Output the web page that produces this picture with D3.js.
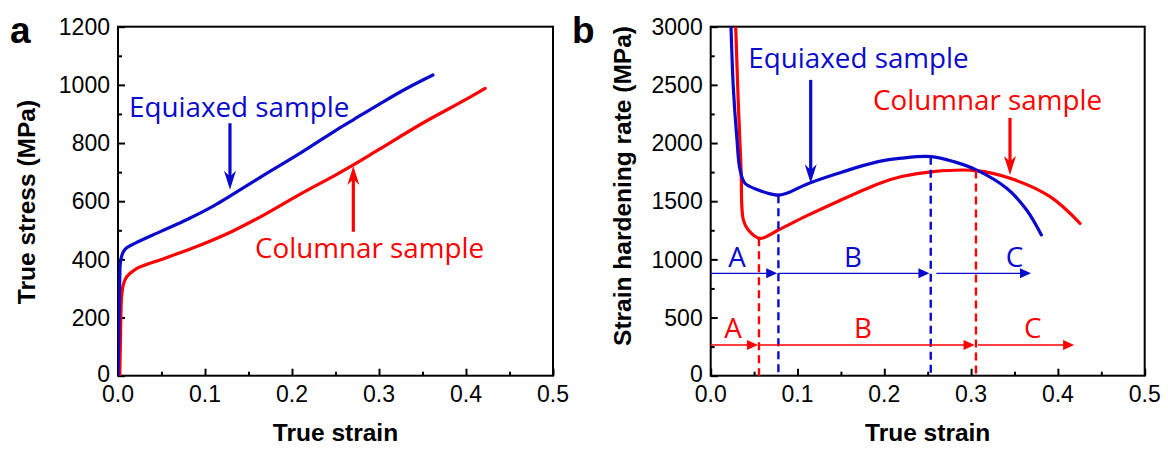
<!DOCTYPE html>
<html>
<head>
<meta charset="utf-8">
<script src="https://cdn.jsdelivr.net/npm/d3@7"></script>
<style>
  body { margin: 0; background: #fff; }
  svg { display: block; }
</style>
</head>
<body>
<svg id="chart"></svg>
<script>
// panel a: true stress-strain curves
const stressEquiaxed = [
  [0, 0], [0.001, 150], [0.002, 330], [0.003, 395], [0.006, 425], [0.01, 440],
  [0.02, 456], [0.05, 497], [0.08, 538], [0.11, 584], [0.13, 620], [0.17, 694],
  [0.21, 766], [0.25, 843], [0.27, 879], [0.3, 933], [0.33, 985], [0.362, 1034]
];
const stressColumnar = [
  [0.002, 0], [0.003, 150], [0.004, 265], [0.006, 312], [0.01, 340], [0.02, 366],
  [0.054, 404], [0.092, 446], [0.131, 496], [0.169, 555], [0.21, 625], [0.25, 690],
  [0.27, 724], [0.3, 778], [0.35, 868], [0.4, 950], [0.422, 988]
];

// panel b: strain hardening rate
const hardEquiaxed = [
  [0.0234, 3000], [0.026, 2485], [0.030, 2055], [0.0338, 1769], [0.0395, 1654],
  [0.0548, 1597], [0.065, 1570], [0.078, 1552], [0.09, 1575], [0.1086, 1640],
  [0.147, 1740], [0.193, 1840], [0.22, 1870], [0.2535, 1883], [0.28, 1840],
  [0.306, 1769], [0.341, 1611], [0.364, 1425], [0.381, 1210]
];
const hardColumnar = [
  [0.0288, 3000], [0.0318, 2342], [0.035, 1769], [0.0376, 1339], [0.0433, 1253],
  [0.0568, 1181], [0.0779, 1253], [0.1086, 1367], [0.147, 1500], [0.195, 1655],
  [0.22, 1712], [0.2565, 1755], [0.3056, 1763], [0.345, 1697], [0.391, 1539],
  [0.4255, 1310]
];

// stage boundaries (dashed lines): [strain, top value]
const stageEquiaxed = [[0.078, 1552], [0.2535, 1883]];
const stageColumnar = [[0.0556, 1181], [0.3056, 1763]];

// stage arrows: [from, to] strain, with row level and labels
const arrowsEquiaxed = [[0, 0.0766], [0.078, 0.252], [0.26, 0.369]];
const arrowsColumnar = [[0, 0.0545], [0.056, 0.304], [0.308, 0.4187]];
const levelEquiaxed = 880, levelColumnar = 264;
const stageLabels = ["A", "B", "C"];
const labelXEquiaxed = [0.0303, 0.164, 0.350];
const labelXColumnar = [0.0257, 0.1755, 0.371];

const xTicks = [0, 0.1, 0.2, 0.3, 0.4, 0.5];
const yTicksA = [0, 200, 400, 600, 800, 1000, 1200];
const yTicksB = [0, 500, 1000, 1500, 2000, 2500, 3000];

const BLUE = "#0a0acc", RED = "#ff0000";
const W = 1168, H = 450;

const svg = d3.select("#chart").attr("width", W).attr("height", H);
svg.append("rect").attr("width", W).attr("height", H).attr("fill", "#fff");

function panel(opt) {
  const x = d3.scaleLinear().domain([0, 0.5]).range([opt.left, opt.right]);
  const y = d3.scaleLinear().domain([0, opt.ymax]).range([375.7, 26.7]);
  const g = svg.append("g");

  const clipId = "clip" + opt.name;
  svg.append("clipPath").attr("id", clipId).append("rect")
    .attr("x", opt.left).attr("y", 26.7)
    .attr("width", opt.right - opt.left).attr("height", 375.7 - 26.7);

  // ticks (inward, minor between majors)
  const xAxis = d3.axisBottom(x).tickValues(d3.range(0, 0.5001, 0.05))
    .tickSize(-7).tickFormat("");
  const gx = g.append("g").attr("transform", `translate(0,375.7)`).call(xAxis);
  gx.selectAll(".tick line").attr("y2", (d, i) => i % 2 ? -4 : -7)
    .attr("stroke", "#000").attr("stroke-width", 2);
  gx.select(".domain").remove();

  const yStep = opt.ymax / 12;
  const yAxis = d3.axisLeft(y).tickValues(d3.range(0, opt.ymax + 1, yStep))
    .tickSize(-7).tickFormat("");
  const gy = g.append("g").attr("transform", `translate(${opt.left},0)`).call(yAxis);
  gy.selectAll(".tick line").attr("x2", (d, i) => i % 2 ? 4 : 7)
    .attr("stroke", "#000").attr("stroke-width", 2);
  gy.select(".domain").remove();

  // tick labels
  g.selectAll(".xl").data(xTicks).enter().append("text")
    .attr("x", d => x(d)).attr("y", 402)
    .attr("text-anchor", "middle")
    .style("font", "23px 'Liberation Sans', Arial, sans-serif")
    .text(d3.format(".1f"));
  g.selectAll(".yl").data(opt.yTicks).enter().append("text")
    .attr("x", opt.left - 8).attr("y", d => y(d) - (d === 0 ? 2 : 0)).attr("dy", "0.36em")
    .attr("text-anchor", "end")
    .style("font", "23px 'Liberation Sans', Arial, sans-serif")
    .text(d => d);

  // frame
  g.append("rect").attr("x", opt.left).attr("y", 26.7)
    .attr("width", opt.right - opt.left).attr("height", 375.7 - 26.7)
    .attr("fill", "none").attr("stroke", "#000").attr("stroke-width", 2);

  // axis titles
  g.append("text")
    .attr("x", (opt.left + opt.right) / 2).attr("y", 441)
    .attr("text-anchor", "middle")
    .style("font", "bold 24.5px 'Liberation Sans', Arial, sans-serif")
    .text("True strain");
  g.append("text")
    .attr("transform", `translate(${opt.titleX},${opt.titleY}) rotate(-90)`)
    .attr("text-anchor", "middle").attr("dy", "0.36em")
    .style("font", "bold 24.5px 'Liberation Sans', Arial, sans-serif")
    .text(opt.yTitle);

  // panel letter
  g.append("text").attr("x", opt.letterX).attr("y", 43)
    .style("font", "bold 37px 'Liberation Sans', Arial, sans-serif")
    .text(opt.name);

  const line = d3.line().x(d => x(d[0])).y(d => y(d[1]))
    .curve(d3.curveCatmullRom.alpha(0.5));
  const curves = g.append("g").attr("clip-path", `url(#${clipId})`);
  opt.series.forEach(s => {
    curves.append("path").datum(s.data)
      .attr("d", line).attr("fill", "none")
      .attr("stroke", s.color).attr("stroke-width", 3.2)
      .attr("stroke-linejoin", "round").attr("stroke-linecap", "round");
  });

  return { x, y, g };
}

function bigArrow(p, color, xv, fromV, toV) {
  const x0 = p.x(xv), y0 = p.y(fromV), y1 = p.y(toV);
  const dir = y1 > y0 ? 1 : -1;
  const headLen = 19, headW = 6;
  p.g.append("line").attr("x1", x0).attr("x2", x0)
    .attr("y1", y0).attr("y2", y1 - dir * headLen * 0.6)
    .attr("stroke", color).attr("stroke-width", 3.2);
  p.g.append("path")
    .attr("d", `M${x0},${y1} L${x0 - headW},${y1 - dir * headLen} L${x0},${y1 - dir * headLen * 0.7} L${x0 + headW},${y1 - dir * headLen} Z`)
    .attr("fill", color);
}

function label(p, color, xv, yv, txt, anchor) {
  p.g.append("text").attr("x", p.x(xv)).attr("y", p.y(yv))
    .attr("text-anchor", anchor || "start")
    .attr("fill", color)
    .style("font", "27.8px 'Open Sans', sans-serif")
    .text(txt);
}

// ---- panel a
const pa = panel({
  name: "a", left: 118, right: 553, ymax: 1200, yTicks: yTicksA,
  yTitle: "True stress (MPa)", titleX: 26, titleY: 202, letterX: 10,
  series: [
    { data: stressColumnar, color: RED },
    { data: stressEquiaxed, color: BLUE }
  ]
});
label(pa, BLUE, 0.0126, 891, "Equiaxed sample");
label(pa, RED, 0.1575, 405, "Columnar sample");
bigArrow(pa, BLUE, 0.1287, 868, 639);
bigArrow(pa, RED, 0.2705, 495, 721);

// ---- panel b
const pb = panel({
  name: "b", left: 710.7, right: 1144.7, ymax: 3000, yTicks: yTicksB,
  yTitle: "Strain hardening rate (MPa)", titleX: 622, titleY: 186, letterX: 572,
  series: [
    { data: hardColumnar, color: RED },
    { data: hardEquiaxed, color: BLUE }
  ]
});

function stages(p, color, bounds, arrows, level, labelXs, labelY) {
  bounds.forEach(b => {
    p.g.append("line").attr("x1", p.x(b[0])).attr("x2", p.x(b[0]))
      .attr("y1", p.y(b[1])).attr("y2", p.y(0))
      .attr("stroke", color).attr("stroke-width", 2.4)
      .attr("stroke-dasharray", "8,5");
  });
  arrows.forEach(a => {
    const x0 = p.x(a[0]), x1 = p.x(a[1]), yy = p.y(level);
    p.g.append("line").attr("x1", x0).attr("x2", x1 - 8).attr("y1", yy).attr("y2", yy)
      .attr("stroke", color).attr("stroke-width", 1.3);
    p.g.append("path")
      .attr("d", `M${x1},${yy} L${x1 - 11},${yy - 5} L${x1 - 11},${yy + 5} Z`)
      .attr("fill", color);
  });
  labelXs.forEach((lx, i) => label(p, color, lx, labelY, stageLabels[i], "middle"));
}
stages(pb, BLUE, stageEquiaxed, arrowsEquiaxed, levelEquiaxed, labelXEquiaxed, 935);
stages(pb, RED, stageColumnar, arrowsColumnar, levelColumnar, labelXColumnar, 324);

label(pb, BLUE, 0.0433, 2643, "Equiaxed sample");
label(pb, RED, 0.187, 2285, "Columnar sample");
bigArrow(pb, BLUE, 0.1152, 2543, 1654);
bigArrow(pb, RED, 0.3448, 2216, 1726);
</script>
</body>
</html>
